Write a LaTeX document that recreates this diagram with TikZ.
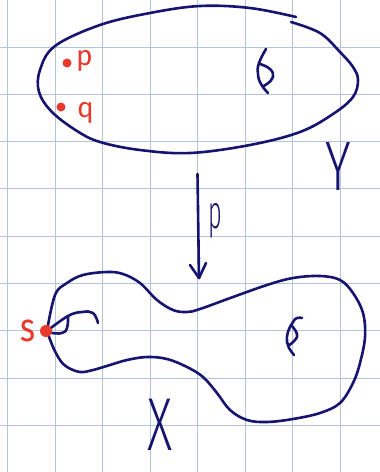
\documentclass[tikz,border=0pt]{standalone}
\usepackage{fontspec}
\setmainfont{Fira Sans Light}
\newfontfamily\redfont{Fira Sans}
\usetikzlibrary{calc}
\definecolor{ink}{RGB}{22,20,112}
\definecolor{redink}{RGB}{232,57,43}
\definecolor{gridc}{RGB}{180,195,220}
\newcommand{\handsize}[1]{\fontsize{#1}{#1}\selectfont}
\begin{document}
\begin{tikzpicture}[x=1pt,y=-1pt,
  gridline/.style={draw=gridc,line width=1pt},
  stroke/.style={draw=ink,line width=2.6pt,line cap=round,line join=round},
  redlabel/.style={text=redink,inner sep=0pt},
  inklabel/.style={text=ink,inner sep=0pt},
  reddot/.style={circle,fill=redink,inner sep=0pt,minimum size=#1}]
\useasboundingbox (0,0) rectangle (380,472);
% grid
\foreach \i in {0,...,7} {\draw[gridline] ({7.5+47.5*\i},0) -- ({7.5+47.5*\i},472);}
\foreach \j in {0,...,8} {\draw[gridline] (0,{47+47.3*\j}) -- (380,{47+47.3*\j});}
% space Y (ellipse)
\draw[stroke] plot[smooth,tension=0.6] coordinates {(291,22) (320,33) (340,52) (353,67) (358,80) (353,97) (333,114) (300,132) (250,145) (190,153) (140,150) (100,142) (77,131) (52,112) (39,92) (40,70) (55,46) (100,25) (150,13) (200,6) (250,8) (296,17)};
% hole in Y
\draw[stroke] plot[smooth,tension=0.8] coordinates {(266,49) (259,63) (258,74) (261,84) (268,93)};
\draw[stroke] plot[smooth,tension=0.8] coordinates {(260,64) (270,69) (273,77) (267,84) (263,86)};
% points p, q
\node[reddot=9pt] (pdot) at (67,63) {};
\node[redlabel,anchor=base west,font=\redfont\handsize{28}] (plab) at (76,65) {p};
\node[reddot=9pt] (qdot) at (61,107) {};
\node[redlabel,anchor=base west,font=\redfont\handsize{28}] (qlab) at (77,117) {q};
% label Y
\node[inklabel,anchor=base,font=\handsize{70}] (Ylab) at (338,190) {\scalebox{0.7}[1]{Y}};
% arrow p
\coordinate (atop) at (197.5,174);
\coordinate (abot) at (199,278);
\draw[stroke] (atop) -- (abot);
\draw[stroke] ($(abot)+(-9,-13)$) -- (abot) -- ($(abot)+(7,-15)$);
\node[inklabel,anchor=base,font=\handsize{47}] (parrow) at (215,228) {\scalebox{0.5}[1]{p}};
% space X
\draw[stroke] plot[smooth,tension=0.6] coordinates {(47,331) (55,295) (67,283) (83,275) (107,272) (123,274) (140,283) (157,300) (173,310) (187,312) (200,309) (233,297) (267,285) (293,278) (320,276) (340,280) (353,293) (363,313) (365,337) (360,363) (353,383) (340,403) (320,413) (293,419) (267,422) (247,420) (230,410) (217,393) (203,377) (187,367) (167,359) (147,357) (127,360) (110,365) (93,370) (80,372) (67,367) (60,360) (53,347) (47,331)};
% loop at s
\draw[stroke] plot[smooth,tension=0.7] coordinates {(98,323) (93,313) (82,312) (68,316) (47,331)};
\draw[stroke] plot[smooth,tension=0.8] coordinates {(68,317) (67,328) (62,333) (52,333)};
% hole in X
\draw[stroke] plot[smooth,tension=0.8] coordinates {(302,318) (297,318) (293,322) (288,332) (287,342) (289,348) (294,355)};
\draw[stroke] plot[smooth,tension=0.8] coordinates {(292,326) (297,334) (295,340) (288,346)};
% base point s
\node[reddot=12pt] (sdot) at (46,331) {};
\node[redlabel,anchor=base,font=\redfont\handsize{40}] (slab) at (28,341) {\scalebox{0.8}[1]{s}};
% label X
\node[inklabel,anchor=base,font=\handsize{75}] (Xlab) at (160,450) {\scalebox{0.65}[1]{X}};
\end{tikzpicture}
\end{document}
